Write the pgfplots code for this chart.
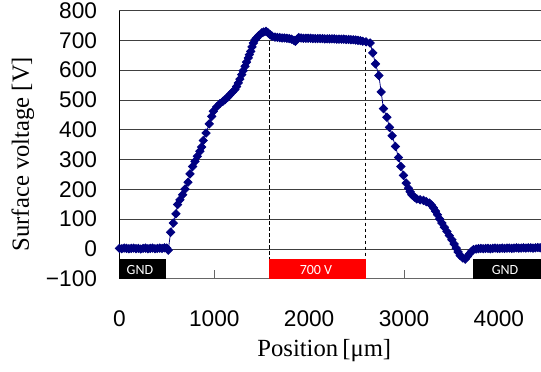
\documentclass[border=0pt]{standalone}
\usepackage{pgfplots}
\pgfplotsset{compat=1.18}
\usepackage{fontspec}
\newfontfamily\arialf{Liberation Sans}
\newfontfamily\timesf{Liberation Serif}
\newfontfamily\calf{Carlito}
\definecolor{navy}{RGB}{0,0,128}
\begin{document}
\begin{tikzpicture}
\begin{axis}[
  scale only axis, width=316.2pt, height=201.2pt,
  at={(0,0)}, anchor=south west,
  xmin=0, xmax=4444, ymin=-100, ymax=800,
  axis x line*=bottom, axis y line*=left,
  x axis line style={black!60, line width=0.6pt},
  y axis line style={black, line width=0.6pt},
  xtick={0,1000,2000,3000,4000},
  ytick={-100,0,100,200,300,400,500,600,700,800},
  yticklabels={−100,0,100,200,300,400,500,600,700,800},
  xtick align=inside,
  major tick length=6.5pt,
  xtick style={black!60, line width=0.6pt},
  ytick style={draw=none},
  ymajorgrids,
  grid style={black!75, line width=0.6pt},
  /pgf/number format/assume math mode=true,
  /pgf/number format/set thousands separator={},
  xticklabel style={anchor=center, yshift=-30pt, font=\arialf\fontsize{17}{17}\selectfont},
  yticklabel style={anchor=east, inner sep=0pt, xshift=-16.6pt, font=\arialf\fontsize{17}{17}\selectfont},
  xlabel={Position\,[μm]},
  ylabel={Surface voltage [V]},
  xlabel style={at={(axis description cs:0.486,-0.266)}, anchor=center, font=\timesf\fontsize{18.5}{18.5}\selectfont},
  ylabel style={at={(axis description cs:-0.229,0.465)}, anchor=center, rotate=0, font=\timesf\fontsize{18.5}{18.5}\selectfont},
  clip=true,
]
\addplot[black, dash pattern=on 2.5pt off 2pt, line width=0.6pt, no marks] coordinates {(1580,697) (1580,-33)};
\addplot[black, dash pattern=on 2.5pt off 2pt, line width=0.6pt, no marks] coordinates {(2597,692) (2597,-33)};
\addplot[navy, line width=0.6pt, mark=square*, mark size=2.2pt, mark options={rotate=45, fill=navy, draw=navy}] coordinates {
(0,2) (25,1) (50,3) (75,2) (100,1) (125,2) (150,3) (175,1) (200,2) (225,0) (250,2) (275,3) (300,1) (325,2) (350,3) (375,1) (400,2) (425,3) (450,2) (475,4) (500,3) (515,-4)
(540,56) (568,87) (596,118) (613,149) (638,165) (667,182) (691,201) (723,224) (744,252) (772,277) (797,294) (821,311) (849,328) (867,342) (884,364) (913,389) (947,420) (973,445) (990,462) (1025,477) (1060,488) (1090,495) (1113,501) (1140,509) (1166,518) (1190,526) (1218,535) (1235,545) (1253,557) (1270,570) (1289,585) (1305,598) (1324,613) (1340,627) (1359,641) (1370,652) (1384,663) (1398,678) (1412,691) (1430,702) (1447,708) (1470,716) (1500,725) (1520,728) (1545,730) (1565,726) (1588,719) (1610,714) (1640,711)
(1665,710) (1690,709) (1715,708) (1740,708) (1765,707) (1790,706) (1815,704) (1840,700) (1855,697) (1870,703) (1890,709) (1915,708) (1940,707) (1965,707) (1990,707) (2015,707) (2040,706) (2065,706) (2090,706) (2115,706) (2140,706) (2165,705) (2190,705) (2215,705) (2240,705) (2265,705) (2290,704) (2315,704) (2340,704) (2365,704) (2390,703) (2415,703) (2440,702) (2465,702) (2490,701) (2515,700) (2540,699) (2565,697)
(2600,695) (2643,691) (2671,658) (2699,621) (2735,582) (2759,527) (2783,471) (2819,442) (2847,408) (2875,380) (2910,344) (2942,307) (2967,277) (2994,247) (3023,221) (3047,204) (3065,192) (3083,182) (3110,174) (3135,168) (3170,165) (3205,163) (3235,159) (3268,154) (3290,147) (3311,138) (3332,127) (3353,115) (3375,101) (3399,87) (3425,73) (3452,59) (3478,45) (3505,31) (3528,17) (3550,3) (3570,-10) (3592,-22) (3620,-30) (3645,-34) (3668,-25) (3690,-16) (3712,-8) (3733,-2) (3760,0)
(3785,1) (3810,2) (3835,1) (3860,2) (3885,2) (3910,1) (3935,2) (3960,3) (3985,2) (4010,2) (4035,3) (4060,2) (4085,3) (4110,3) (4135,2) (4160,3) (4185,4) (4210,3) (4235,3) (4260,4) (4285,3) (4310,4) (4335,4) (4360,3) (4385,4) (4410,5) (4435,4)
};
\fill[black] (axis cs:0,-100) rectangle (axis cs:496,-33.6);
\fill[red] (axis cs:1580,-100) rectangle (axis cs:2597,-33.6);
\fill[black] (axis cs:3726,-100) rectangle (axis cs:4444,-33.6);
\node[white, font=\calf\fontsize{10.5}{10.5}\selectfont] at (axis cs:217,-70) {GND};
\node[white, font=\calf\fontsize{10.5}{10.5}\selectfont] at (axis cs:2072,-70) {700 V};
\node[white, font=\calf\fontsize{10.5}{10.5}\selectfont] at (axis cs:4065,-70) {GND};
\end{axis}
\pgfresetboundingbox
\path[use as bounding box] (-89.55pt,-69.2pt) rectangle (316.2pt,209.1pt);
\end{tikzpicture}
\end{document}
